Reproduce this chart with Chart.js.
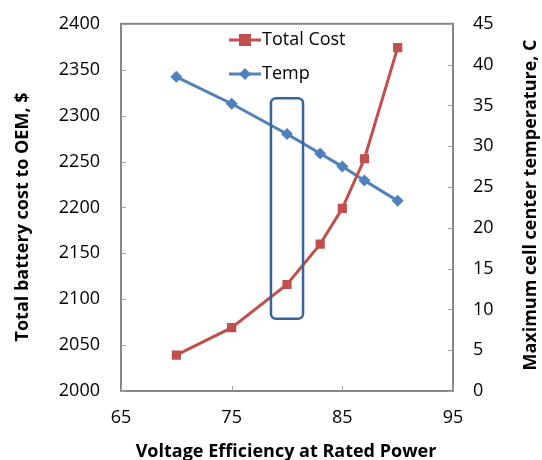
<!DOCTYPE html>
<html><head><meta charset="utf-8">
<script src="https://cdn.jsdelivr.net/npm/chart.js@4/dist/chart.umd.min.js"></script>
<style>html,body{margin:0;padding:0;background:#fff}#w{width:542px;height:460px}</style>
</head><body><div id="w"><canvas id="c"></canvas></div>
<script>
const efficiency = [70, 75, 80, 83, 85, 87, 90];
const totalCost = [2039, 2069, 2116, 2160, 2199, 2253, 2374];
const temp = [38.5, 35.2, 31.5, 29.1, 27.5, 25.8, 23.3];
const xTicks = [65, 75, 85, 95];
const highlight = {x0: 78.55, x1: 81.45, y0: 2078.7, y1: 2319};
const titles = {x: 'Voltage Efficiency at Rated Power', y: 'Total battery cost to OEM, $', y1: 'Maximum cell center temperature, C'};

const FONT = "'Open Sans', sans-serif";
const AXIS = '#868686';

const frame = {
  id: 'frame',
  afterDatasetsDraw(chart) {
    const {ctx, chartArea: a, scales} = chart;
    ctx.save();
    ctx.strokeStyle = AXIS; ctx.lineWidth = 2;
    ctx.strokeRect(a.left, a.top, a.right - a.left, a.bottom - a.top);
    ctx.lineWidth = 1; ctx.strokeStyle = '#a0a0a0';
    ctx.beginPath();
    scales.x.ticks.forEach(t => { const px = Math.round(scales.x.getPixelForValue(t.value)) + 0.5; ctx.moveTo(px, a.bottom); ctx.lineTo(px, a.bottom - 5); });
    scales.y.ticks.forEach(t => { const py = Math.round(scales.y.getPixelForValue(t.value)) + 0.5; ctx.moveTo(a.left, py); ctx.lineTo(a.left + 5, py); });
    scales.y1.ticks.forEach(t => { const py = Math.round(scales.y1.getPixelForValue(t.value)) + 0.5; ctx.moveTo(a.right, py); ctx.lineTo(a.right - 5, py); });
    ctx.stroke();
    const X0 = scales.x.getPixelForValue(highlight.x0), X1 = scales.x.getPixelForValue(highlight.x1);
    const Y0 = scales.y.getPixelForValue(highlight.y1), Y1 = scales.y.getPixelForValue(highlight.y0);
    ctx.strokeStyle = '#3A639A'; ctx.lineWidth = 2.5;
    ctx.beginPath(); ctx.roundRect(X0, Y0, X1 - X0, Y1 - Y0, 5); ctx.stroke();
    const items = [
      {label: 'Total Cost', color: '#C0504D', style: 'rect', y: 40},
      {label: 'Temp', color: '#4F81BD', style: 'rectRot', y: 74}
    ];
    items.forEach(it => {
      ctx.strokeStyle = it.color; ctx.lineWidth = 3;
      ctx.beginPath(); ctx.moveTo(229, it.y); ctx.lineTo(261, it.y); ctx.stroke();
      ctx.fillStyle = it.color; ctx.beginPath();
      if (it.style === 'rect') ctx.rect(239, it.y - 6, 12, 12);
      else { ctx.moveTo(245, it.y - 6); ctx.lineTo(251, it.y); ctx.lineTo(245, it.y + 6); ctx.lineTo(239, it.y); ctx.closePath(); }
      ctx.fill();
      ctx.fillStyle = '#000'; ctx.font = '18px ' + FONT; ctx.textBaseline = 'middle'; ctx.textAlign = 'left';
      ctx.fillText(it.label, 262, it.y);
    });
    ctx.fillStyle = '#000'; ctx.font = 'bold 18px ' + FONT; ctx.textAlign = 'center'; ctx.textBaseline = 'middle';
    ctx.fillText(titles.x, (a.left + a.right) / 2 - 1, 452);
    ctx.save(); ctx.translate(23, 217); ctx.rotate(-Math.PI / 2); ctx.fillText(titles.y, 0, 0); ctx.restore();
    ctx.save(); ctx.translate(531, 205); ctx.rotate(-Math.PI / 2); ctx.fillText(titles.y1, 0, 0); ctx.restore();
    ctx.restore();
  }
};

new Chart(document.getElementById('c'), {
  type: 'line',
  data: {
    datasets: [
      {label: 'Total Cost', data: efficiency.map((x, i) => ({x, y: totalCost[i]})), yAxisID: 'y',
       borderColor: '#C0504D', backgroundColor: '#C0504D', borderWidth: 3, pointStyle: 'rect', pointRadius: 6.5, pointBorderWidth: 0, tension: 0},
      {label: 'Temp', data: efficiency.map((x, i) => ({x, y: temp[i]})), yAxisID: 'y1',
       borderColor: '#4F81BD', backgroundColor: '#4F81BD', borderWidth: 3, pointStyle: 'rectRot', pointRadius: 6, pointBorderWidth: 0, tension: 0}
    ]
  },
  options: {
    responsive: true, maintainAspectRatio: false, animation: false,
    layout: {padding: {top: 20, left: 0, right: 0, bottom: 0}},
    plugins: {legend: {display: false}, tooltip: {enabled: false}},
    scales: {
      x: {type: 'linear', min: 65, max: 95,
        afterBuildTicks: s => { s.ticks = xTicks.map(v => ({value: v})); },
        afterFit: s => { s.height = 69; },
        grid: {display: false}, border: {display: false},
        ticks: {color: '#000', font: {family: FONT, size: 18}, padding: 8, callback: v => String(v)}},
      y: {position: 'left', min: 2000, max: 2400,
        afterFit: s => { s.width = 121; },
        grid: {display: false}, border: {display: false},
        ticks: {stepSize: 50, color: '#000', font: {family: FONT, size: 18}, padding: 13, callback: v => String(v)}},
      y1: {position: 'right', min: 0, max: 45,
        afterFit: s => { s.width = 89; },
        grid: {display: false}, border: {display: false},
        ticks: {stepSize: 5, color: '#000', font: {family: FONT, size: 18}, padding: 12, callback: v => String(v)}}
    }
  },
  plugins: [frame]
});
</script></body></html>
